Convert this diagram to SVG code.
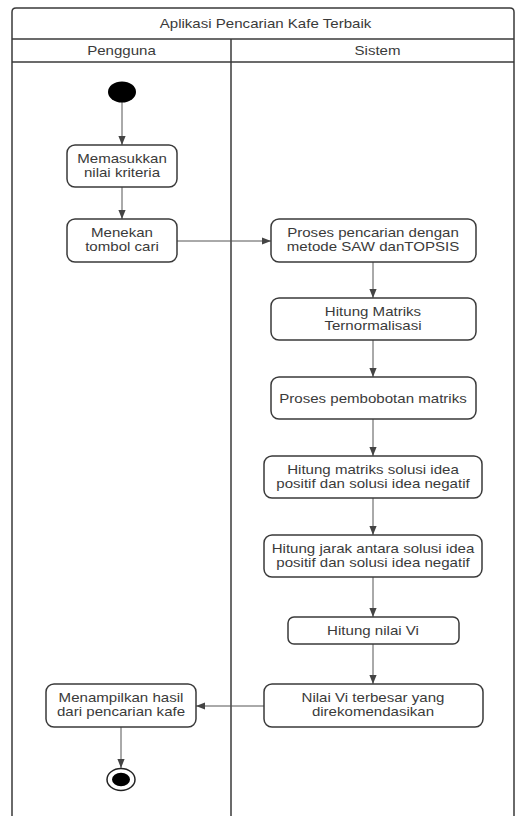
<svg xmlns="http://www.w3.org/2000/svg" width="516" height="816" viewBox="0 0 516 816">
<defs>
<style>
.frame{fill:none;stroke:#3a3a3a;stroke-width:1.5}
.node rect{fill:#fff;stroke:#3a3a3a;stroke-width:1.5}
text{font-family:"Liberation Sans",Arial,sans-serif;font-size:13px;fill:#3a3a3a;text-anchor:middle}
.conn path{fill:none;stroke:#555;stroke-width:1;marker-end:url(#arr)}
</style>
<marker id="arr" viewBox="0 0 10 10" refX="10" refY="5" markerWidth="9" markerHeight="9" markerUnits="userSpaceOnUse" orient="auto">
<path d="M0,1 L10,5 L0,9 z" fill="#444"/>
</marker>
</defs>
<rect width="516" height="816" fill="#fff"/>
<g id="frame">
<path class="frame" d="M12,820 V12 Q12,8 16,8 H510 Q514,8 514,12 V820"/>
<line class="frame" x1="12" y1="39" x2="514" y2="39"/>
<line class="frame" x1="12" y1="62" x2="514" y2="62"/>
<line class="frame" x1="231" y1="39" x2="231" y2="820"/>
<text transform="translate(265.5,28) scale(1.16,1)">Aplikasi Pencarian Kafe Terbaik</text>
<text transform="translate(121.5,55) scale(1.16,1)">Pengguna</text>
<text transform="translate(377.5,55) scale(1.16,1)">Sistem</text>
</g>
<g class="conn" id="connectors">
<path d="M122,102 V145"/>
<path d="M122,187 V219"/>
<path d="M177,241 H271"/>
<path d="M373,262 V298"/>
<path d="M373,340 V377"/>
<path d="M373,419 V456"/>
<path d="M373,498 V535"/>
<path d="M373,577 V617"/>
<path d="M373,644 V684"/>
<path d="M264,706 H196"/>
<path d="M121,727 V768"/>
</g>
<g id="start"><ellipse cx="122" cy="92" rx="14" ry="10.5" fill="#000"/></g>
<g class="node" id="n1"><rect x="67" y="145" width="110" height="42" rx="8"/>
<text transform="translate(122,162.5) scale(1.16,1)">Memasukkan</text>
<text transform="translate(122,176.5) scale(1.16,1)">nilai kriteria</text></g>
<g class="node" id="n2"><rect x="67" y="219" width="110" height="43" rx="8"/>
<text transform="translate(122,236.5) scale(1.16,1)">Menekan</text>
<text transform="translate(122,250.5) scale(1.16,1)">tombol cari</text></g>
<g class="node" id="n3"><rect x="271" y="219" width="205" height="43" rx="8"/>
<text transform="translate(373,236.5) scale(1.16,1)">Proses pencarian dengan</text>
<text transform="translate(373,250.5) scale(1.16,1)">metode SAW danTOPSIS</text></g>
<g class="node" id="n4"><rect x="271" y="298" width="205" height="42" rx="8"/>
<text transform="translate(373,315.5) scale(1.16,1)">Hitung Matriks</text>
<text transform="translate(373,329.5) scale(1.16,1)">Ternormalisasi</text></g>
<g class="node" id="n5"><rect x="271" y="377" width="205" height="42" rx="8"/>
<text transform="translate(373,402.5) scale(1.16,1)">Proses pembobotan matriks</text></g>
<g class="node" id="n6"><rect x="264" y="456" width="218" height="42" rx="8"/>
<text transform="translate(373,473.5) scale(1.16,1)">Hitung matriks solusi idea</text>
<text transform="translate(373,487.5) scale(1.16,1)">positif dan solusi idea negatif</text></g>
<g class="node" id="n7"><rect x="264" y="535" width="218" height="42" rx="8"/>
<text transform="translate(373,552.5) scale(1.16,1)">Hitung jarak antara solusi idea</text>
<text transform="translate(373,566.5) scale(1.16,1)">positif dan solusi idea negatif</text></g>
<g class="node" id="n8"><rect x="288" y="617" width="171" height="27" rx="6"/>
<text transform="translate(373,634.5) scale(1.16,1)">Hitung nilai Vi</text></g>
<g class="node" id="n9"><rect x="264" y="684" width="219" height="43" rx="8"/>
<text transform="translate(373,701.5) scale(1.16,1)">Nilai Vi terbesar yang</text>
<text transform="translate(373,715.5) scale(1.16,1)">direkomendasikan</text></g>
<g class="node" id="n10"><rect x="46" y="684" width="150" height="43" rx="8"/>
<text transform="translate(121,701.5) scale(1.16,1)">Menampilkan hasil</text>
<text transform="translate(121,715.5) scale(1.16,1)">dari pencarian kafe</text></g>
<g id="end"><ellipse cx="121" cy="779.5" rx="14" ry="11" fill="#fff" stroke="#222" stroke-width="1.5"/>
<ellipse cx="121" cy="779.5" rx="9" ry="6.8" fill="#000"/></g>
</svg>
